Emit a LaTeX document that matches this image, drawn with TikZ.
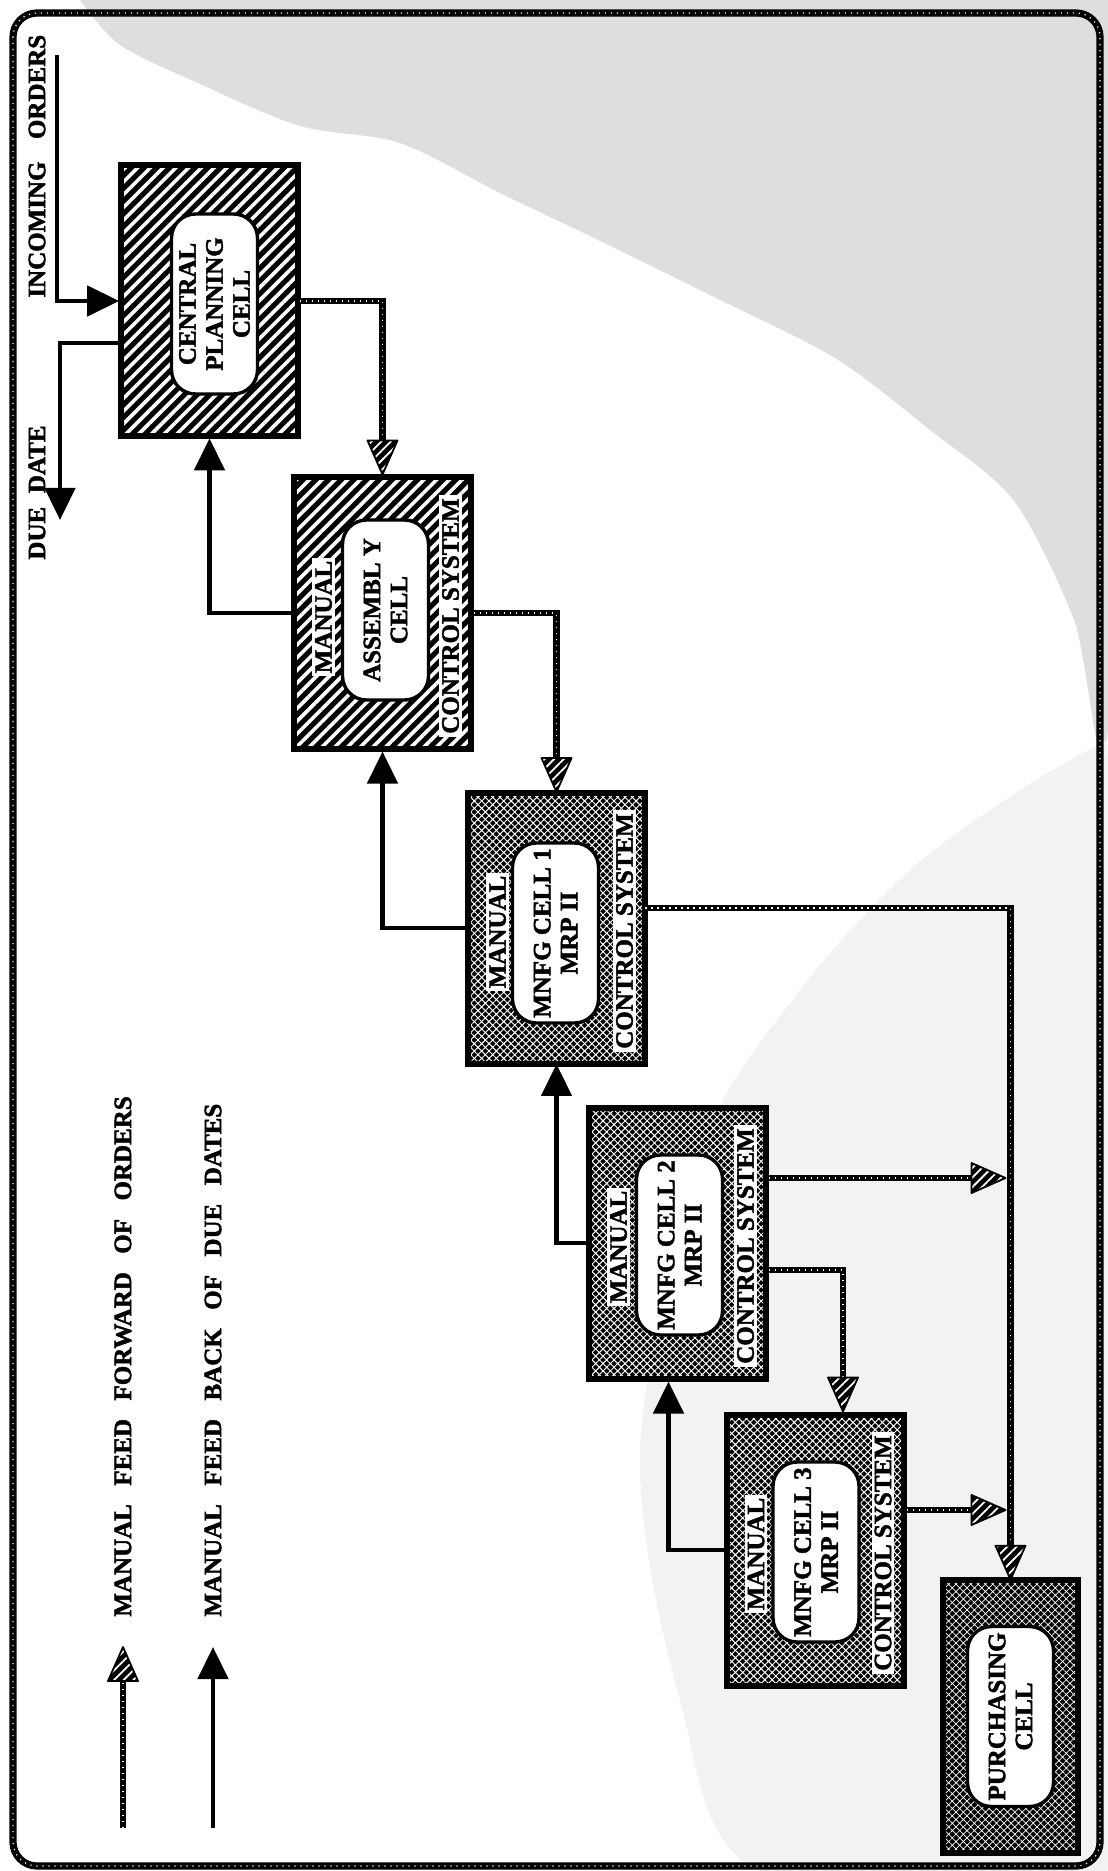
\documentclass[tikz,border=0pt]{standalone}
\usepackage{fontspec}
\setmainfont{Liberation Serif}[BoldFeatures={FakeBold=1.8}]
\usetikzlibrary{arrows.meta,patterns.meta,calc}
\newcommand\cellfont{\bfseries\fontsize{12.5}{13.5}\selectfont}
\newcommand\wgap{\hspace{0.74em}}
% hatched triangular head of a feed-forward line: tip at #1, pointing at angle #2
\newcommand\ffhead[2]{\path[ffheadstyle, shift={(#1)}, rotate=#2] (0,0) -- (-17pt,7.5pt) -- (-17pt,-7.5pt) -- cycle;}

\begin{document}
\begin{tikzpicture}[x=0.5pt, y=-0.5pt,
  rope/.style={draw=black, line width=3.2pt,
    postaction={draw=white, line width=0.6pt, dash pattern=on 0.6pt off 2.4pt}},
  fb/.style={draw=black, line width=2.3pt, -{Triangle[length=16pt,width=15pt]}},
  ffheadstyle/.style={draw=black, line width=0.9pt, line join=round,
    preaction={fill=black}, pattern={Lines[angle=45,distance=3.4pt,line width=0.9pt]},
    pattern color=white},
  cellframe/.style={draw=black, line width=3pt, inner sep=0pt,
    minimum width=88.5pt, minimum height=135.5pt, preaction={fill=black}},
  stripebox/.style={cellframe,
    pattern={Lines[angle=45,distance=4.5pt,line width=1.8pt]}, pattern color=white},
  checkbox/.style={cellframe,
    pattern={Hatch[angle=45,distance=2.6pt,line width=0.48pt]}, pattern color=white},
  darkbox/.style={cellframe, minimum width=67.5pt, minimum height=136.5pt,
    pattern={Hatch[angle=45,distance=2.6pt,line width=0.35pt]}, pattern color=white},
  core/.style={draw=black, line width=1.7pt, fill=white, rounded corners=12pt,
    rotate=90, minimum width=90pt, minimum height=43pt, inner sep=0pt,
    align=center, font=\cellfont},
  tag/.style={fill=white, inner sep=1.5pt, rotate=90, font=\cellfont},
  caption/.style={inner sep=0pt, rotate=90, anchor=west, font=\cellfont}]

\useasboundingbox (0,0) rectangle (1107,1871);

% scanner haze in the upper right
\fill[black!13] plot[smooth] coordinates {(80,0) (1107,0) (1107,740) (1074,620) (1014,501)
  (930,430) (835,358) (716,298) (596,239) (500,193) (400,143) (300,126) (200,84)
  (120,45) (80,0)};
\fill[black!5] plot[smooth] coordinates {(1107,740) (1107,1871) (760,1871) (680,1700)
  (640,1450) (700,1150) (800,990) (910,870) (1020,790) (1107,740)};

% outer frame
\draw[rope, line width=3.6pt, rounded corners=12pt] (13,13) rectangle (1100,1866);

% cells
\node[stripebox] (central) at (209.5,301) {};
\node[stripebox] (assembly) at (382.5,613) {};
\node[checkbox] (m1) at (556.5,928) {};
\node[checkbox] (m2) at (677.5,1243) {};
\node[checkbox] (m3) at (815,1550) {};
\node[darkbox] (purch) at (1010.5,1716.5) {};

\node[core] (centralcore) at ($(central.center)+(5,3)$) {CENTRAL\\PLANNING\\CELL};
\node[core] (assemblycore) at ($(assembly.center)+(3,-3)$) {ASSEMBL Y\\CELL};
\node[core] (m1core) at ($(m1.center)+(-1,5)$) {MNFG CELL 1\\MRP II};
\node[core] (m2core) at ($(m2.center)+(2,2)$) {MNFG CELL 2\\MRP II};
\node[core] (m3core) at ($(m3.center)+(1,2)$) {MNFG CELL 3\\MRP II};
\node[core] (purchcore) at ($(purch.center)+(0,0)$) {PURCHASING\\CELL};

\foreach \c in {assembly,m1,m2,m3}{
  \node[tag] (\c manual) at ($(\c.center)+(-59,4)$) {MANUAL};
  \node[tag] (\c control) at ($(\c.center)+(68,3)$) {CONTROL SYSTEM};
}

% outside world
\node[caption] (incoming) at (37,298) {INCOMING\hspace{0.9em}ORDERS};
\node[caption] (duedate) at (37,560) {DUE\hspace{0.55em}DATE};
\coordinate (incstart) at (57,55);
\coordinate (duetip) at (60,520);
\draw[fb] (incstart) |- (central.west);
\draw[fb] ($(central.west)+(0,42)$) -| (duetip);

% feed forward of orders
\draw[rope, shorten >=16pt] (central.east) -| (assembly.north);
\ffhead{assembly.north}{-90}
\draw[rope, shorten >=16pt] (assembly.east) -| (m1.north);
\ffhead{m1.north}{-90}
\coordinate (m1out) at ($(m1.east)+(0,-20)$);
\draw[rope, shorten >=16pt] (m1out) -| (purch.north);
\ffhead{purch.north}{-90}
\coordinate (m2outa) at ($(m2.east)+(0,-65)$);
\coordinate (j2) at ($(m2outa -| purch.north)+(-5,0)$);
\draw[rope, shorten >=16pt] (m2outa) -- (j2);
\ffhead{j2}{0}
\coordinate (m2outb) at ($(m2.east)+(0,27)$);
\coordinate (m3in) at ($(m3.north)+(28,0)$);
\draw[rope, shorten >=16pt] (m2outb) -| (m3in);
\ffhead{m3in}{-90}
\coordinate (m3out) at ($(m3.east)+(0,-40)$);
\coordinate (j3) at ($(m3out -| purch.north)+(-5,0)$);
\draw[rope, shorten >=16pt] (m3out) -- (j3);
\ffhead{j3}{0}

% feed back of due dates
\draw[fb] (assembly.west) -| (central.south);
\draw[fb] (m1.west) -| (assembly.south);
\draw[fb] (m2.west) -| (m1.south);
\draw[fb] (m3.west) -| ($(m2.south)+(-9,0)$);

% legend
\coordinate (lgffa) at (123,1828);
\coordinate (lgffb) at (123,1647);
\draw[rope, shorten >=16pt] (lgffa) -- (lgffb);
\ffhead{lgffb}{90}
\coordinate (lgfba) at (213,1828);
\coordinate (lgfbb) at (213,1647);
\draw[fb] (lgfba) -- (lgfbb);
\node[caption] (lgfftext) at (123,1617) {MANUAL\wgap FEED\wgap FORWARD\wgap OF\wgap ORDERS};
\node[caption] (lgfbtext) at (213,1617) {MANUAL\wgap FEED\wgap BACK\wgap OF\wgap DUE\wgap DATES};
\end{tikzpicture}
\end{document}
